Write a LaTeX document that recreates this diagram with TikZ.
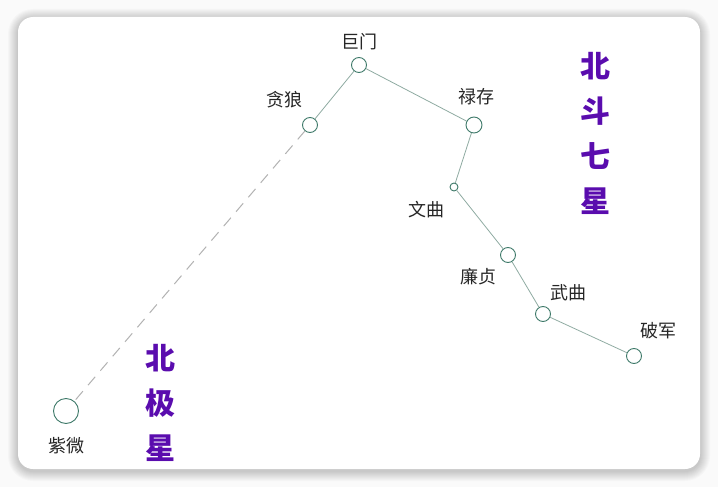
\documentclass[tikz,border=0pt]{standalone}
\usepackage{fontspec}
\newfontfamily\cjk{Noto Sans CJK SC}
\definecolor{starline}{HTML}{8FABA2}
\definecolor{starring}{HTML}{3F7A6A}
\definecolor{titlepurple}{HTML}{5A0CAE}
\tikzset{
  starnode/.style={circle, draw=starring, fill=white, line width=0.9pt, inner sep=0pt, minimum size=15pt},
  starname/.style={font=\cjk\fontsize{18}{18}\selectfont, text=black!85},
  titletext/.style={font=\cjk\bfseries\fontsize{30}{30}\selectfont, text=titlepurple},
  link/.style={draw=starline, line width=0.8pt},
}
\begin{document}
\begin{tikzpicture}[x=1pt,y=-1pt]
\useasboundingbox (0,0) rectangle (718,487);
\fill[black!2] (0,0) rectangle (718,487);
% card and its shadow
\foreach \i in {10,...,1}
  \fill[black, opacity=0.018, rounded corners={15+\i}] (18-\i,17-\i+2) rectangle (700+\i,469+\i+2);
\fill[white, rounded corners=15] (18,17) rectangle (700,469);

% stars
\node[starnode] (jumen) at (359,65) {};
\node[starnode] (tanlang) at (310,125) {};
\node[starnode, minimum size=16pt] (lucun) at (474,125) {};
\node[starnode, minimum size=8pt] (wenqu) at (454,187) {};
\node[starnode] (lianzhen) at (508,255) {};
\node[starnode] (wuqu) at (543,314) {};
\node[starnode] (pojun) at (634,356) {};
\node[starnode, minimum size=25pt] (ziwei) at (66,411) {};

% names
\node[starname] (jumenname) at (359,42) {巨门};
\node[starname] (tanlangname) at (284,100) {贪狼};
\node[starname] (lucunname) at (476,97) {禄存};
\node[starname] (wenquname) at (426,210) {文曲};
\node[starname] (lianzhenname) at (478,277) {廉贞};
\node[starname] (wuquname) at (568,293) {武曲};
\node[starname] (pojunname) at (658,331) {破军};
\node[starname] (ziweiname) at (66,446) {紫微};

% lines
\draw[link] (tanlang) -- (jumen) -- (lucun) -- (wenqu) -- (lianzhen) -- (wuqu) -- (pojun);
\draw[black!30, line width=1pt, dash pattern=on 11pt off 8pt] (tanlang) -- (ziwei);

% titles
\node[titletext] (beidoua) at (595,66) {北};
\node[titletext] (beidoub) at (595,111) {斗};
\node[titletext] (beidouc) at (595,156) {七};
\node[titletext] (beidoud) at (595,201) {星};
\node[titletext] (beijia) at (160,358) {北};
\node[titletext] (beijib) at (160,403) {极};
\node[titletext] (beijic) at (160,448) {星};
\end{tikzpicture}
\end{document}
